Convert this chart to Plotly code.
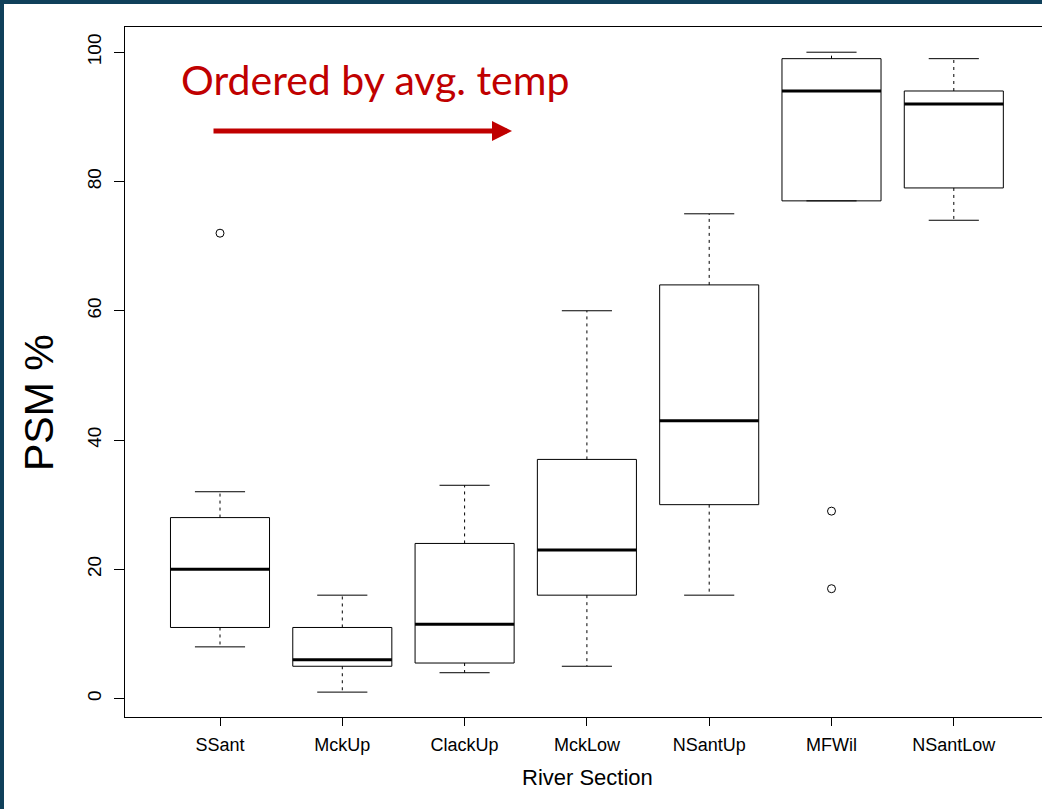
import plotly.graph_objects as go

# ---- data ----
categories = ["SSant", "MckUp", "ClackUp", "MckLow", "NSantUp", "MFWil", "NSantLow"]
lower_whisker = [8, 1, 4, 5, 16, 77, 74]
q1_values = [11, 5, 5.5, 16, 30, 77, 79]
median_values = [20, 6, 11.5, 23, 43, 94, 92]
q3_values = [28, 11, 24, 37, 64, 99, 94]
upper_whisker = [32, 16, 33, 60, 75, 100, 99]
outlier_cat = ["SSant", "MFWil", "MFWil"]
outlier_val = [72, 29, 17]
y_ticks = [0, 20, 40, 60, 80, 100]

W, H = 1042, 809
ML, MR, MT, MB = 125, 0, 27, 92
PW, PH = W - ML - MR, H - MT - MB

def px_x(px):
    return (px - ML) / PW

def px_y(py):
    return (H - MB - py) / PH

BOX_HALF = 0.405
CAP_HALF = 0.205

fig = go.Figure()
pos = {c: i + 1 for i, c in enumerate(categories)}

for i, c in enumerate(categories):
    x = pos[c]
    lo, q1, med, q3, hi = lower_whisker[i], q1_values[i], median_values[i], q3_values[i], upper_whisker[i]
    # whiskers (dashed)
    fig.add_trace(go.Scatter(x=[x, x, None, x, x], y=[q3, hi, None, q1, lo], mode="lines",
                             line=dict(color="black", width=1, dash="3px,4px"),
                             hoverinfo="skip", showlegend=False))
    # caps
    fig.add_trace(go.Scatter(x=[x - CAP_HALF, x + CAP_HALF, None, x - CAP_HALF, x + CAP_HALF],
                             y=[hi, hi, None, lo, lo], mode="lines",
                             line=dict(color="black", width=1), hoverinfo="skip", showlegend=False))
    # box
    fig.add_trace(go.Scatter(x=[x - BOX_HALF, x + BOX_HALF, x + BOX_HALF, x - BOX_HALF, x - BOX_HALF],
                             y=[q1, q1, q3, q3, q1], mode="lines",
                             line=dict(color="black", width=1), hoverinfo="skip", showlegend=False))
    # median
    fig.add_trace(go.Scatter(x=[x - BOX_HALF, x + BOX_HALF], y=[med, med], mode="lines",
                             line=dict(color="black", width=3), hoverinfo="skip", showlegend=False))

fig.add_trace(go.Scatter(x=[pos[c] for c in outlier_cat], y=outlier_val, mode="markers",
                         marker=dict(symbol="circle-open", size=8, color="black", line=dict(width=1)),
                         hoverinfo="skip", showlegend=False))

axis_font = dict(family="Liberation Sans, Arial, sans-serif", size=18, color="black")

x_left = 1 - (220 - ML) / 122.3
x_right = 1 + (W - 220) / 122.3

fig.update_layout(
    width=W, height=H,
    margin=dict(l=ML, r=MR, t=MT, b=MB, pad=0),
    paper_bgcolor="white", plot_bgcolor="white",
    xaxis=dict(range=[x_left, x_right], tickmode="array",
               tickvals=list(range(1, len(categories) + 1)), ticktext=categories,
               showgrid=False, zeroline=False, showline=True, linecolor="black", linewidth=1,
               mirror=True, ticks="outside", ticklen=8, tickcolor="black",
               ticklabelstandoff=3, tickfont=axis_font),
    yaxis=dict(range=[-2.85, 103.9], tickmode="array", tickvals=y_ticks,
               ticktext=[str(v) for v in y_ticks], tickangle=-90,
               showgrid=False, zeroline=False, showline=True, linecolor="black", linewidth=1,
               mirror=False, ticks="outside", ticklen=10, tickcolor="black",
               ticklabelstandoff=5, tickfont=dict(family="Liberation Sans, Arial, sans-serif", size=19, color="black")),
    font=dict(family="Liberation Sans, Arial, sans-serif", color="black"),
    annotations=[
        dict(text="River Section", xref="paper", yref="paper", x=px_x(587), y=px_y(777),
             xanchor="center", yanchor="middle", showarrow=False,
             font=dict(family="Liberation Sans, Arial, sans-serif", size=22, color="black")),
        dict(text="PSM %", xref="paper", yref="paper", x=px_x(39), y=px_y(403),
             xanchor="center", yanchor="middle", showarrow=False, textangle=-90,
             font=dict(family="Liberation Sans, Arial, sans-serif", size=41, color="black")),
        dict(text="Ordered by avg. temp", xref="paper", yref="paper", x=px_x(179), y=px_y(79),
             xanchor="left", yanchor="middle", showarrow=False,
             font=dict(family="Lato, sans-serif", size=41, color="#c00000")),
        dict(text="", xref="paper", yref="paper", x=px_x(512), y=px_y(131),
             ax=-300, ay=0, axref="pixel", ayref="pixel", showarrow=True,
             arrowhead=2, arrowsize=0.8, arrowwidth=5, arrowcolor="#c00000"),
    ],
    shapes=[
        dict(type="rect", xref="paper", yref="paper", x0=px_x(0), x1=px_x(4), y0=px_y(H), y1=px_y(0),
             fillcolor="#10405a", line=dict(width=0), layer="above"),
        dict(type="rect", xref="paper", yref="paper", x0=px_x(0), x1=px_x(W), y0=px_y(4), y1=px_y(0),
             fillcolor="#10405a", line=dict(width=0), layer="above"),
    ],
)

fig.write_html("out.html")
